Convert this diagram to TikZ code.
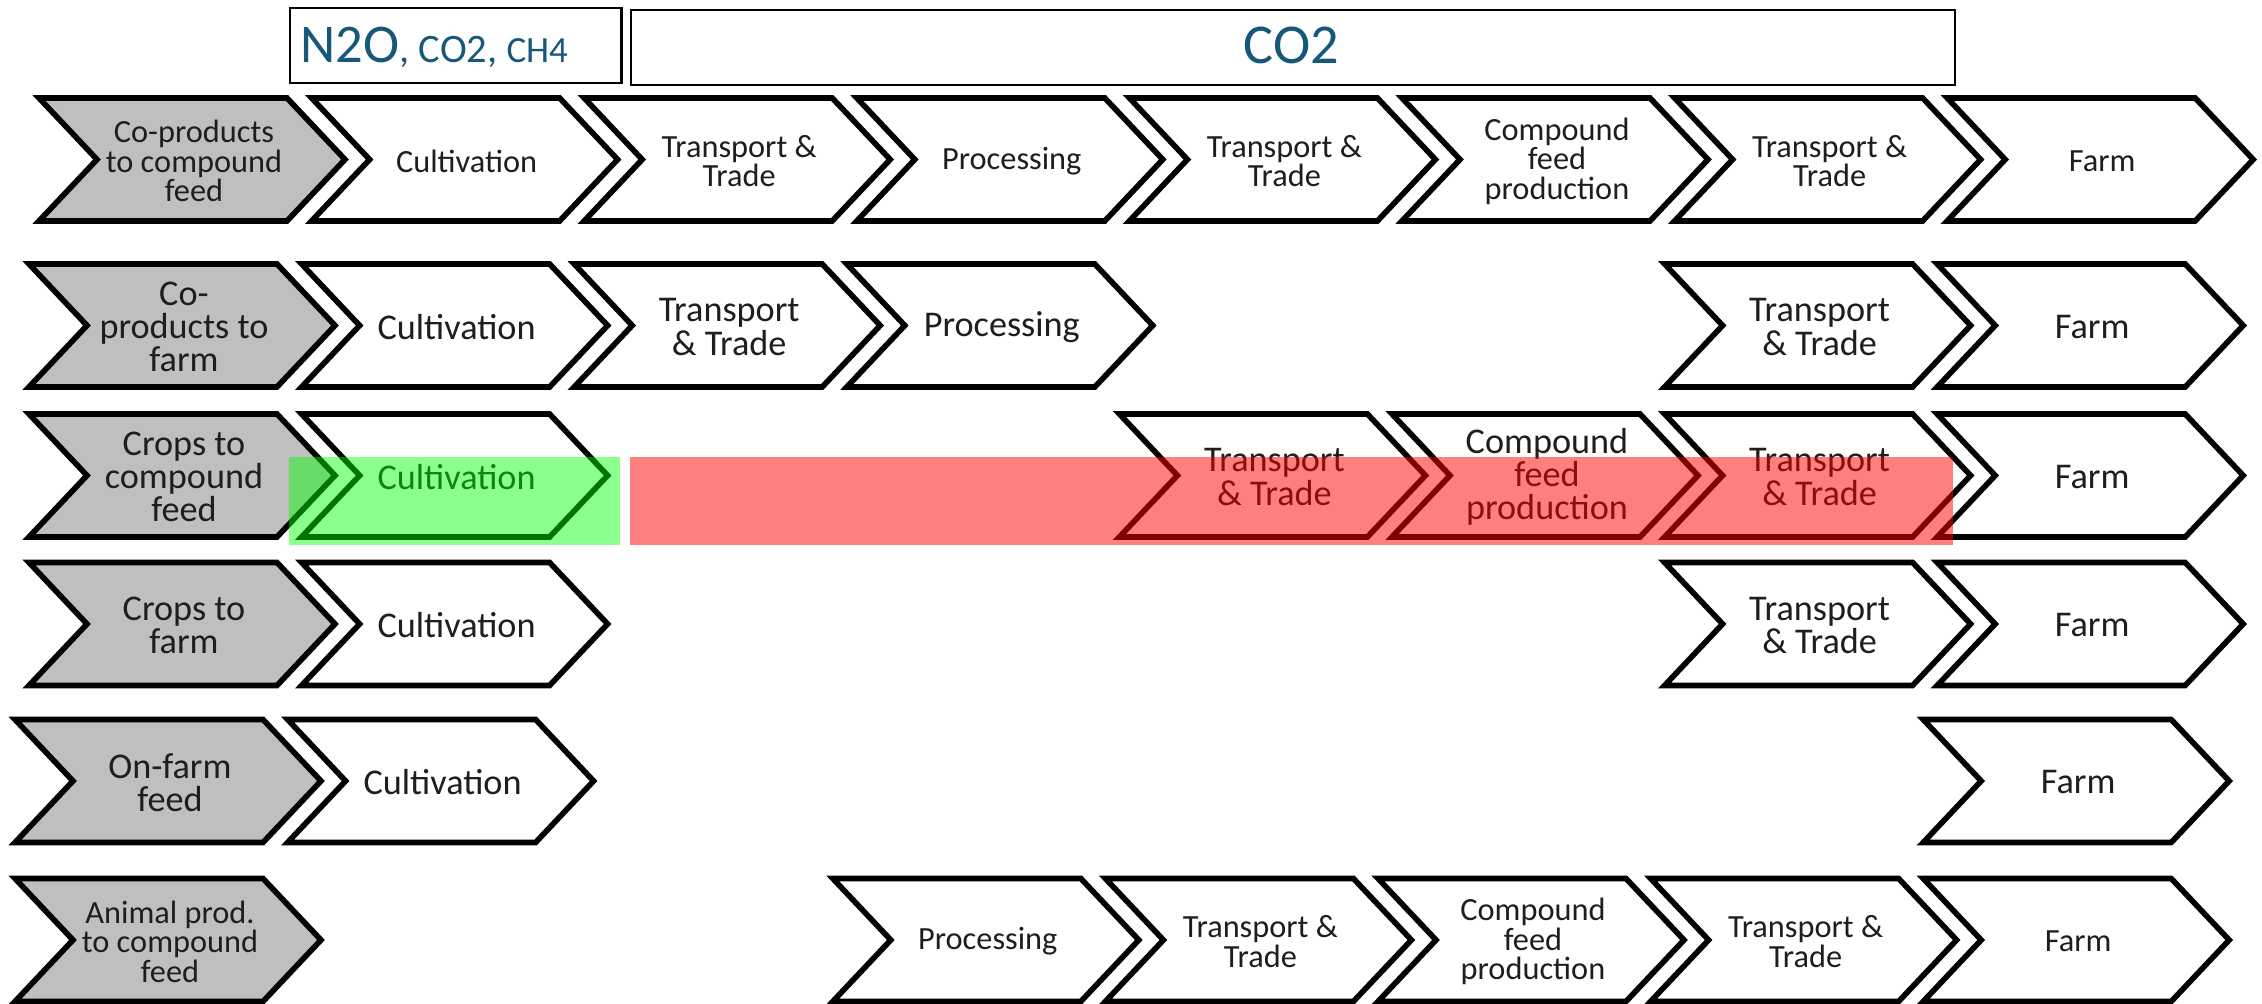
\documentclass[tikz,border=0pt]{standalone}
\usepackage{fontspec}
\setmainfont{Carlito}
\definecolor{ghgblue}{RGB}{23,88,122}
\definecolor{greyfill}{RGB}{191,191,191}
\definecolor{lbltext}{RGB}{30,30,30}
\tikzset{
  chevline/.style={draw=black, line width=1.6pt, line join=miter},
  lblS/.style={font=\fontsize{9.2}{8.4}\selectfont, align=center, text=lbltext, inner sep=0pt},
  lblL/.style={font=\fontsize{10.3}{9.4}\selectfont, align=center, text=lbltext, inner sep=0pt},
  topbox/.style={draw=black, line width=0.7pt, inner sep=0pt, anchor=north west},
}
% #1 name, #2 row offset, #3 column, #4 y centre, #5 fill, #6 label style, #7 text
\newcommand{\chevr}[7]{%
  \pgfmathsetmacro\chevX{#2+#3*272.6}%
  \draw[chevline, fill=#5] (\chevX,#4-61.5) -- ++(248,0) -- ++(58,61.5) -- ++(-58,61.5) -- ++(-248,0) -- ++(58,-61.5) -- cycle;
  \node[#6] (#1) at (\chevX+155,#4+1.5) {#7};
}
\begin{document}
\begin{tikzpicture}[x=0.01cm, y=-0.01cm]
\useasboundingbox (0,0) rectangle (2262,1004);
\fill[white] (0,0) rectangle (2262,1004);

% top boxes
\node[topbox, minimum width=3.315cm, minimum height=0.75cm] (ghgbox) at (288.5,7) {};
\node[anchor=base west, inner sep=0pt, text=ghgblue] (ghgtext) at (300,63)
  {\fontsize{15.5}{16}\selectfont N2O\fontsize{11.5}{12}\selectfont, CO2, \fontsize{10.5}{11}\selectfont CH4};
\node[topbox, minimum width=13.23cm, minimum height=0.75cm] (co2box) at (630,9) {};
\node[anchor=base, inner sep=0pt, text=ghgblue] (co2text) at (1291.5,64) {\fontsize{16}{16}\selectfont CO2};

% row 1
\chevr{a0}{39}{0}{159.5}{greyfill}{lblS}{Co-products\\to compound\\feed}
\chevr{a1}{39}{1}{159.5}{white}{lblS}{Cultivation}
\chevr{a2}{39}{2}{159.5}{white}{lblS}{Transport \&\\Trade}
\chevr{a3}{39}{3}{159.5}{white}{lblS}{Processing}
\chevr{a4}{39}{4}{159.5}{white}{lblS}{Transport \&\\Trade}
\chevr{a5}{39}{5}{159.5}{white}{lblS}{Compound\\feed\\production}
\chevr{a6}{39}{6}{159.5}{white}{lblS}{Transport \&\\Trade}
\chevr{a7}{39}{7}{159.5}{white}{lblS}{Farm}

% row 2
\chevr{b0}{29}{0}{325.5}{greyfill}{lblL}{Co-\\products to\\farm}
\chevr{b1}{29}{1}{325.5}{white}{lblL}{Cultivation}
\chevr{b2}{29}{2}{325.5}{white}{lblL}{Transport\\\& Trade}
\chevr{b3}{29}{3}{325.5}{white}{lblL}{Processing}
\chevr{b6}{29}{6}{325.5}{white}{lblL}{Transport\\\& Trade}
\chevr{b7}{29}{7}{325.5}{white}{lblL}{Farm}

% row 3
\chevr{c0}{29}{0}{475.5}{greyfill}{lblL}{Crops to\\compound\\feed}
\chevr{c1}{29}{1}{475.5}{white}{lblL}{Cultivation}
\chevr{c4}{29}{4}{475.5}{white}{lblL}{Transport\\\& Trade}
\chevr{c5}{29}{5}{475.5}{white}{lblL}{Compound\\feed\\production}
\chevr{c6}{29}{6}{475.5}{white}{lblL}{Transport\\\& Trade}
\chevr{c7}{29}{7}{475.5}{white}{lblL}{Farm}

% row 4
\chevr{d0}{29}{0}{624}{greyfill}{lblL}{Crops to\\farm}
\chevr{d1}{29}{1}{624}{white}{lblL}{Cultivation}
\chevr{d6}{29}{6}{624}{white}{lblL}{Transport\\\& Trade}
\chevr{d7}{29}{7}{624}{white}{lblL}{Farm}

% row 5
\chevr{e0}{15}{0}{781}{greyfill}{lblL}{On-farm\\feed}
\chevr{e1}{15}{1}{781}{white}{lblL}{Cultivation}
\chevr{e7}{15}{7}{781}{white}{lblL}{Farm}

% row 6
\chevr{f0}{15}{0}{940}{greyfill}{lblS}{Animal prod.\\to compound\\feed}
\chevr{f3}{15}{3}{940}{white}{lblS}{Processing}
\chevr{f4}{15}{4}{940}{white}{lblS}{Transport \&\\Trade}
\chevr{f5}{15}{5}{940}{white}{lblS}{Compound\\feed\\production}
\chevr{f6}{15}{6}{940}{white}{lblS}{Transport \&\\Trade}
\chevr{f7}{15}{7}{940}{white}{lblS}{Farm}

% overlays
\fill[green, opacity=0.45] (288.5,457) rectangle (620,545);
\fill[red, opacity=0.5] (630,457) rectangle (1953,545);
\end{tikzpicture}
\end{document}
